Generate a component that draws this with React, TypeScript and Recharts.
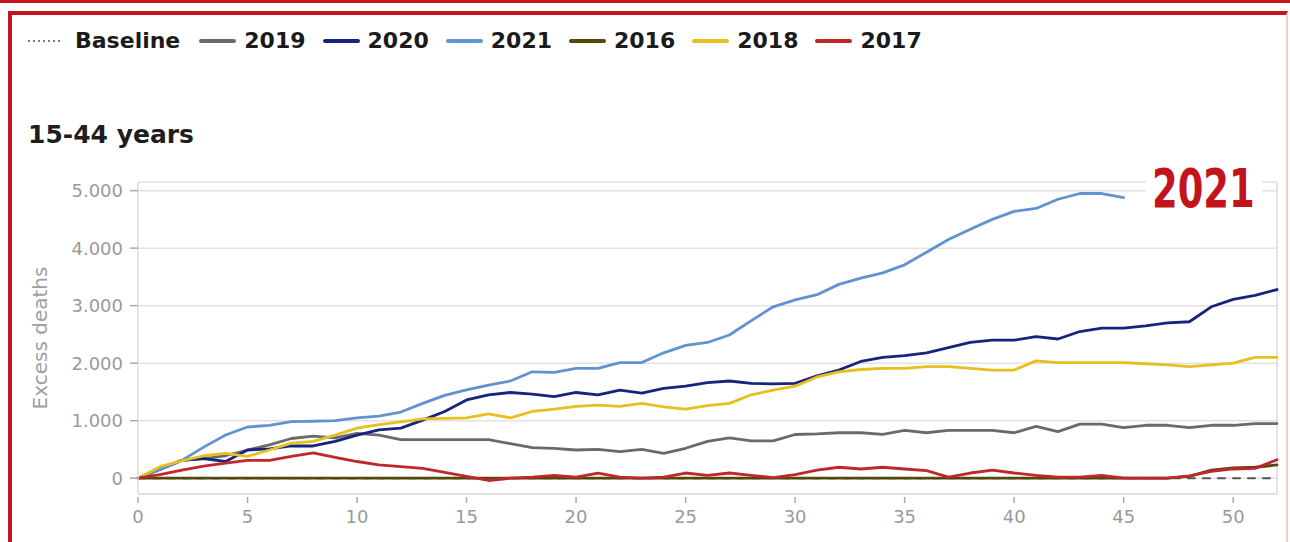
import React from 'react';
import { LineChart, Line, XAxis, YAxis, CartesianGrid, Legend, ReferenceLine } from 'recharts';

// ---- data ----
const weeks = [0,1,2,3,4,5,6,7,8,9,10,11,12,13,14,15,16,17,18,19,20,21,22,23,24,25,26,27,28,29,30,31,32,33,34,35,36,37,38,39,40,41,42,43,44,45,46,47,48,49,50,51,52];

const baseline = [0,0,0,0,0,0,0,0,0,0,0,0,0,0,0,0,0,0,0,0,0,0,0,0,0,0,0,0,0,0,0,0,0,0,0,0,0,0,0,0,0,0,0,0,0,0,0,0,0,0,0,0,0];

const s2019 = [0,160,310,340,390,490,580,690,730,700,780,750,670,670,670,670,670,600,530,520,490,500,460,500,430,520,640,700,650,650,760,770,790,790,760,830,790,830,830,830,790,900,810,940,940,880,920,920,880,920,920,950,950];

const s2020 = [0,150,310,340,290,490,510,560,560,640,750,840,870,1010,1160,1360,1450,1490,1460,1420,1490,1450,1530,1480,1560,1600,1660,1690,1650,1640,1650,1780,1880,2030,2100,2130,2180,2270,2360,2400,2400,2460,2420,2550,2610,2610,2650,2700,2720,2980,3110,3180,3280];

const s2021 = [0,150,310,540,750,890,920,985,990,1000,1050,1080,1150,1300,1440,1535,1620,1690,1850,1840,1910,1910,2010,2010,2180,2310,2360,2490,2740,2980,3100,3190,3370,3480,3570,3710,3930,4150,4330,4500,4640,4690,4850,4950,4950,4880];

const s2016 = [0,0,0,0,0,0,0,0,0,0,0,0,0,0,0,0,0,0,0,0,0,0,0,0,0,0,0,0,0,0,0,0,0,0,0,0,0,0,0,0,0,0,0,0,0,0,0,0,30,140,180,190,230];

const s2018 = [0,200,300,390,430,380,490,610,640,750,870,930,980,1030,1040,1050,1120,1050,1160,1200,1250,1270,1250,1300,1240,1200,1260,1300,1450,1530,1600,1760,1850,1890,1910,1910,1940,1940,1910,1880,1880,2040,2010,2010,2010,2010,1990,1970,1940,1970,2000,2100,2100];

const s2017 = [0,60,140,210,260,310,310,380,440,360,290,230,200,170,100,30,-40,0,20,50,20,90,20,0,20,90,50,90,50,10,60,140,190,160,190,160,130,20,90,140,90,50,20,20,50,0,0,0,40,120,160,170,320];

const seriesNames = ['Baseline', '2019', '2020', '2021', '2016', '2018', '2017'];
const seriesColors = ['#555555', '#6a6a6a', '#17237e', '#6193d0', '#54470c', '#e5c01f', '#c0272c'];

const xTicks = [0, 5, 10, 15, 20, 25, 30, 35, 40, 45, 50];
const yTicks = [0, 1000, 2000, 3000, 4000, 5000];
const yTickLabels = ['0', '1.000', '2.000', '3.000', '4.000', '5.000'];

const titleText = '15-44 years';
const yAxisTitle = 'Excess deaths';
const annotationText = '2021';

const seriesValues = [baseline, s2019, s2020, s2021, s2016, s2018, s2017];

const data = weeks.map((w, i) => {
  const row: Record<string, number | null> = { week: w };
  seriesNames.forEach((name, k) => {
    const arr = seriesValues[k];
    row[name] = i < arr.length ? arr[i] : null;
  });
  return row;
});

const FONT = '"DejaVu Sans", Verdana, sans-serif';

const LegendContent = () => {
  return (
    <div
      style={{
        display: 'flex',
        alignItems: 'center',
        height: 26,
        lineHeight: '26px',
        fontFamily: FONT,
        fontWeight: 'bold',
        fontSize: 22,
        color: '#1b1b1b',
        whiteSpace: 'nowrap',
      }}
    >
      {seriesNames.map((name, idx) => {
        const dotted = name === 'Baseline';
        return (
          <div key={idx} style={{ display: 'flex', alignItems: 'center', marginRight: dotted ? 19 : 17 }}>
            <svg width={37} height={6} style={{ display: 'block', marginRight: dotted ? 11 : 8 }}>
              <line
                x1={dotted ? 1 : 2}
                x2={dotted ? 36 : 35}
                y1={3}
                y2={3}
                stroke={dotted ? '#808080' : seriesColors[idx]}
                strokeWidth={dotted ? 2 : 4}
                strokeDasharray={dotted ? '2 3' : undefined}
                strokeLinecap={dotted ? 'butt' : 'round'}
              />
            </svg>
            <span>{name}</span>
          </div>
        );
      })}
    </div>
  );
};

const XTick = (props: any) => {
  const { x, y, payload } = props;
  return (
    <g>
      <line x1={x} x2={x} y1={y + 3} y2={y + 9} stroke="#aaaaaa" strokeWidth={1.5} />
      <text x={x} y={y + 29} textAnchor="middle" fill="#9a9a9a" fontSize={18} fontFamily={FONT}>
        {payload.value}
      </text>
    </g>
  );
};

const YLabel = () => (
  <text
    x={47}
    y={338}
    transform="rotate(-90 47 338)"
    textAnchor="middle"
    fill="#a0a0a0"
    fontSize={20}
    fontFamily={FONT}
  >
    {yAxisTitle}
  </text>
);

export default function App() {
  return (
    <div style={{ position: 'absolute', left: 0, top: 0, width: 1290, height: 542, overflow: 'hidden', background: '#ffffff' }}>
      <div style={{ position: 'absolute', left: 0, top: 0 }}>
        <LineChart width={1290} height={542} data={data} margin={{ top: 182, right: 13, bottom: 8, left: 0 }}>
          <CartesianGrid horizontal={true} vertical={false} stroke="#e2e2e2" strokeWidth={1.5} />
          <XAxis
            dataKey="week"
            type="number"
            domain={[0, 52]}
            ticks={xTicks}
            height={40}
            axisLine={{ stroke: '#dddddd', strokeWidth: 1.5 }}
            tickLine={false}
            tickSize={0}
            tickMargin={0}
            tick={<XTick />}
            interval={0}
          />
          <YAxis
            type="number"
            domain={[-275, 5150]}
            ticks={yTicks}
            width={138}
            interval={0}
            axisLine={{ stroke: '#dddddd', strokeWidth: 1.5 }}
            tickLine={{ stroke: '#aaaaaa', strokeWidth: 1.5 }}
            tickSize={8}
            tickMargin={7}
            tick={{ fill: '#9a9a9a', fontSize: 18, fontFamily: FONT }}
            tickFormatter={(v: number) => yTickLabels[yTicks.indexOf(v)] ?? String(v)}
            label={{ content: <YLabel /> }}
          />
          <ReferenceLine x={52} stroke="#dddddd" strokeWidth={1.5} />
          <Legend
            layout="horizontal"
            verticalAlign="middle"
            align="center"
            wrapperStyle={{ top: 28, left: 27, width: 1220, height: 26 }}
            content={<LegendContent />}
          />
          {seriesNames.map((name, k) => (
            <Line
              key={name}
              type="linear"
              dataKey={name}
              name={name}
              stroke={seriesColors[k]}
              strokeWidth={name === 'Baseline' ? 2 : 2.8}
              strokeDasharray={name === 'Baseline' ? '7 8' : undefined}
              strokeLinejoin="round"
              strokeLinecap="round"
              dot={false}
              activeDot={false}
              connectNulls={false}
              isAnimationActive={false}
            />
          ))}
        </LineChart>
      </div>
      <svg width={1290} height={542} style={{ position: 'absolute', left: 0, top: 0, pointerEvents: 'none' }}>
        <text x={28} y={143} fontFamily={FONT} fontWeight="bold" fontSize={25} fill="#1e1e1e">
          {titleText}
        </text>
        <rect x={1146} y={164} width={116} height={48} fill="#ffffff" />
        <text
          transform="translate(1152 207) scale(0.76 1)"
          x={0}
          y={0}
          fontFamily='"DejaVu Sans Condensed", "DejaVu Sans", sans-serif'
          fontWeight="bold"
          fontSize={54}
          fill="#c3141c"
        >
          {annotationText}
        </text>
      </svg>
      <div style={{ position: 'absolute', left: 0, top: 0, width: 1290, height: 3, background: '#c8141c' }} />
      <div
        style={{
          position: 'absolute',
          left: 8,
          top: 11,
          width: 1280,
          height: 600,
          boxSizing: 'border-box',
          borderLeft: '4px solid #c8141c',
          borderTop: '4px solid #c8141c',
          borderRight: '2px solid #f3cccc',
        }}
      />
    </div>
  );
}
